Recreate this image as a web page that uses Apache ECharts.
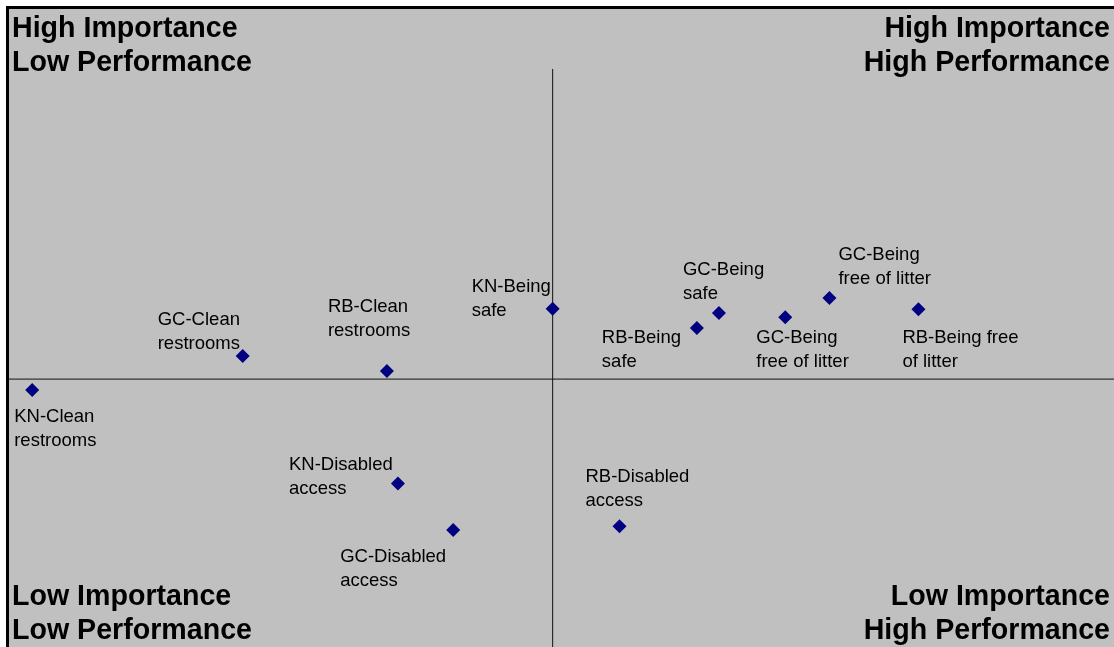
<!DOCTYPE html>
<html>
<head>
<meta charset="utf-8">
<script src="https://cdn.jsdelivr.net/npm/echarts@6/dist/echarts.min.js"></script>
<style>
html,body{margin:0;padding:0;background:#fff;}
#chart{width:1114px;height:647px;}
</style>
</head>
<body>
<div id="chart"></div>
<script>
// Point names (label text)
const names = [
  'KN-Clean\nrestrooms',
  'GC-Clean\nrestrooms',
  'RB-Clean\nrestrooms',
  'KN-Being\nsafe',
  'RB-Being\nsafe',
  'GC-Being\nsafe',
  'GC-Being\nfree of litter',
  'GC-Being\nfree of litter',
  'RB-Being free\nof litter',
  'KN-Disabled\naccess',
  'GC-Disabled\naccess',
  'RB-Disabled\naccess'
];
// Performance (x) and Importance (y) values
const performance = [3.042, 3.423, 3.684, 3.984, 4.245, 4.285, 4.405, 4.485, 4.646, 3.704, 3.804, 4.105];
const importance  = [3.889, 4.007, 3.955, 4.170, 4.104, 4.156, 4.141, 4.208, 4.169, 3.566, 3.405, 3.418];
// Axis ranges
const perfRange = [3, 5];
const impRange = [3, 5];
// Quadrant dividers
const crossPerformance = 3.984;
const crossImportance = 3.927;
// Quadrant titles
const quadrantTitles = {
  topLeft: 'High Importance\nLow Performance',
  topRight: 'High Importance\nHigh Performance',
  bottomLeft: 'Low Importance\nLow Performance',
  bottomRight: 'Low Importance\nHigh Performance'
};

// Label placement (style only): offset of label's top-left from marker centre
const labelOffsets = [
  [-18, 15], [-85, -48], [-59, -76], [-81, -34], [-95, -2], [-36, -55],
  [-29, 9], [9, -55], [-16, 17], [-109, -31], [-113, 15], [-34, -61]
];
const markerSize = 14;

const seriesData = names.map((n, i) => ({
  name: n,
  value: [performance[i], importance[i]],
  label: { position: [labelOffsets[i][0] + markerSize / 2, labelOffsets[i][1] + markerSize / 2] }
}));

const chart = echarts.init(document.getElementById('chart'), null, {renderer: 'canvas'});
const titleFont = 'bold 28.6px "Liberation Sans", Arial, sans-serif';
const lineStyle = { color: '#111', width: 1, type: 'solid', opacity: 1 };
chart.setOption({
  animation: false,
  backgroundColor: '#ffffff',
  graphic: [
    {
      type: 'rect', z: -10, silent: true,
      shape: { x: 7.5, y: 7.5, width: 1300, height: 800 },
      style: { fill: '#c0c0c0', stroke: '#000000', lineWidth: 3 }
    },
    { type: 'text', z: 10, x: 12, y: 12, style: { text: quadrantTitles.topLeft, font: titleFont, lineHeight: 34, fill: '#000', textAlign: 'left', textVerticalAlign: 'top' } },
    { type: 'text', z: 10, x: 1110, y: 12, style: { text: quadrantTitles.topRight, font: titleFont, lineHeight: 34, fill: '#000', textAlign: 'right', textVerticalAlign: 'top' } },
    { type: 'text', z: 10, x: 12, y: 580, style: { text: quadrantTitles.bottomLeft, font: titleFont, lineHeight: 34, fill: '#000', textAlign: 'left', textVerticalAlign: 'top' } },
    { type: 'text', z: 10, x: 1110, y: 580, style: { text: quadrantTitles.bottomRight, font: titleFont, lineHeight: 34, fill: '#000', textAlign: 'right', textVerticalAlign: 'top' } }
  ],
  grid: { left: 9, right: 0, top: 69, bottom: 0, containLabel: false },
  xAxis: {
    type: 'value', min: perfRange[0], max: perfRange[1],
    axisLine: { show: false }, axisTick: { show: false }, axisLabel: { show: false }, splitLine: { show: false }
  },
  yAxis: {
    type: 'value', min: impRange[0], max: impRange[1],
    axisLine: { show: false }, axisTick: { show: false }, axisLabel: { show: false }, splitLine: { show: false }
  },
  series: [
    {
      type: 'line', silent: true, symbol: 'none', z: 1,
      lineStyle: lineStyle,
      data: [[crossPerformance, impRange[0]], [crossPerformance, impRange[1]]]
    },
    {
      type: 'line', silent: true, symbol: 'none', z: 1,
      lineStyle: lineStyle,
      data: [[perfRange[0], crossImportance], [perfRange[1], crossImportance]]
    },
    {
      type: 'scatter',
      symbol: 'diamond',
      symbolSize: markerSize,
      z: 5,
      itemStyle: { color: '#000080', opacity: 1 },
      label: {
        show: true,
        align: 'left',
        verticalAlign: 'top',
        formatter: p => p.name,
        color: '#000000',
        fontFamily: '"Liberation Sans", Arial, sans-serif',
        fontSize: 18.5,
        lineHeight: 24
      },
      labelLayout: { hideOverlap: false },
      data: seriesData
    }
  ]
});
</script>
</body>
</html>
